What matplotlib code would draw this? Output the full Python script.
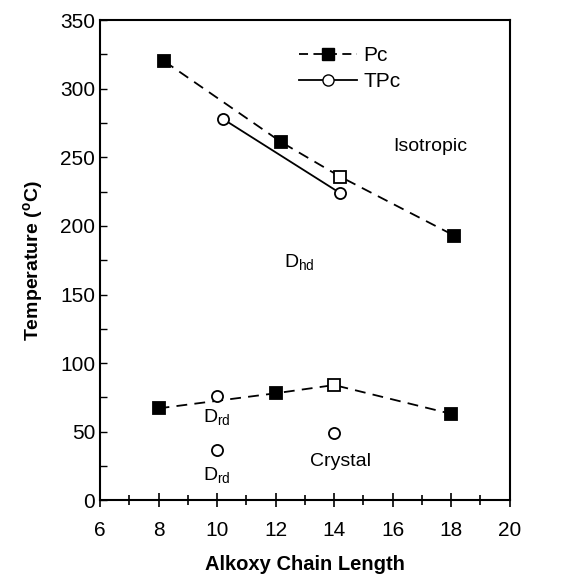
import matplotlib.pyplot as plt
from matplotlib.ticker import MultipleLocator

plt.rcParams['font.family'] = ['Liberation Sans', 'DejaVu Sans']

# Pc (upper transition, isotropic)
pc_hi_x = [8.2, 12.2, 14.2, 18.1]
pc_hi_y = [320, 261, 236, 193]
# Pc (lower transition, crystal)
pc_lo_x = [8.0, 12.0, 14.0, 18.0]
pc_lo_y = [67, 78, 84, 63]
pc_open = [False, False, True, False]

# TPc
tpc_hi_x = [10.2, 14.2]
tpc_hi_y = [278, 224]
tpc_pts_x = [10.0, 10.0, 14.0]
tpc_pts_y = [76, 37, 49]

fig = plt.figure(figsize=(5.62, 5.77), dpi=100)
ax = fig.add_axes([0.178, 0.133, 0.729, 0.832])

ms = 9
for xs, ys in [(pc_hi_x, pc_hi_y), (pc_lo_x, pc_lo_y)]:
    ax.plot(xs, ys, color='black', linestyle=(0, (6, 4)), linewidth=1.3, zorder=2)
    for x, y, op in zip(xs, ys, pc_open):
        ax.plot(x, y, marker='s', markersize=ms, color='black',
                markerfacecolor='white' if op else 'black',
                markeredgewidth=1.3, linestyle='none', zorder=3)

ax.plot(tpc_hi_x, tpc_hi_y, color='black', linewidth=1.3, marker='o',
        markersize=8, markerfacecolor='white', markeredgewidth=1.3, zorder=3)
ax.plot(tpc_pts_x, tpc_pts_y, color='black', linestyle='none', marker='o',
        markersize=8, markerfacecolor='white', markeredgewidth=1.3, zorder=3)

# legend entries drawn manually
ax.plot([], [], color='black', linestyle=(0, (5, 3)), marker='s', markersize=ms,
        linewidth=1.3, label='Pc')
ax.plot([], [], color='black', marker='o', markersize=8, markerfacecolor='white',
        linewidth=1.3, label='TPc')
ax.legend(loc='upper left', bbox_to_anchor=(0.44, 0.985), frameon=False,
          fontsize=15, handlelength=2.8, handletextpad=0.3, labelspacing=0.35)

fs = 14
ax.text(17.3, 258, 'Isotropic', fontsize=fs, ha='center', va='center')
ax.text(12.8, 173, r'D$_{\mathregular{hd}}$', fontsize=fs, ha='center', va='center')
ax.text(10.0, 60, r'D$_{\mathregular{rd}}$', fontsize=fs, ha='center', va='center')
ax.text(10.0, 18, r'D$_{\mathregular{rd}}$', fontsize=fs, ha='center', va='center')
ax.text(14.2, 28, 'Crystal', fontsize=fs, ha='center', va='center')

ax.set_xlim(6, 20)
ax.set_ylim(0, 350)
ax.xaxis.set_major_locator(MultipleLocator(2))
ax.xaxis.set_minor_locator(MultipleLocator(1))
ax.yaxis.set_major_locator(MultipleLocator(50))
ax.yaxis.set_minor_locator(MultipleLocator(25))
ax.tick_params(axis='x', which='both', direction='inout', length=10, width=1.2,
               labelsize=15, pad=10)
ax.tick_params(axis='x', which='minor', length=7)
ax.tick_params(axis='y', which='both', direction='in', length=5, width=1.0,
               labelsize=15)
for s in ax.spines.values():
    s.set_linewidth(1.5)

ax.set_xlabel('Alkoxy Chain Length', fontsize=14.5, fontweight='bold', labelpad=11)
ax.set_ylabel(r'Temperature ($^{\mathregular{o}}$C)', fontsize=14,
              fontweight='bold', labelpad=10)

fig.savefig('out.png', dpi=100)
